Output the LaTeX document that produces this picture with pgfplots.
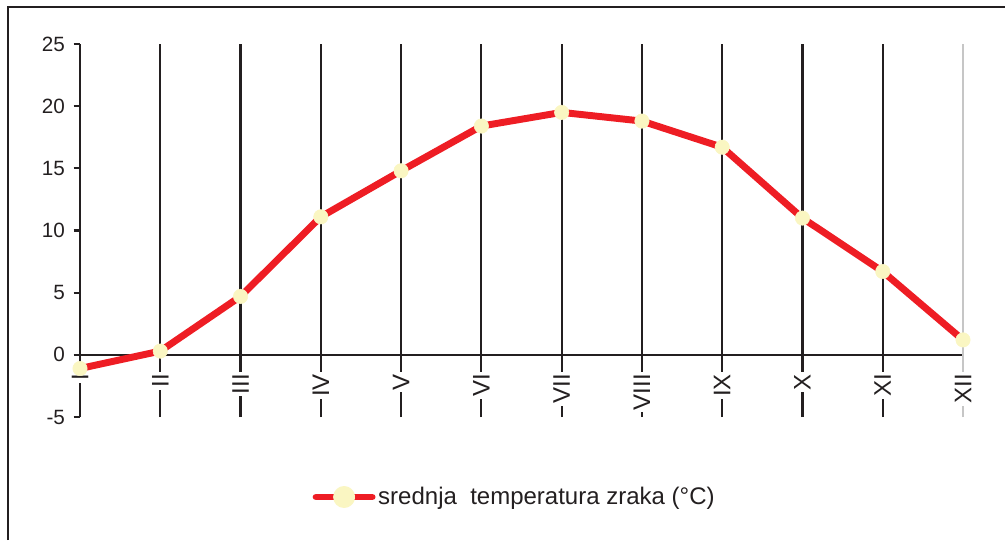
\documentclass[border=0pt]{standalone}
\usepackage{pgfplots}
\pgfplotsset{compat=1.18}
\usepackage{fontspec}
\setmainfont{Liberation Sans}
\definecolor{tred}{HTML}{EE1D24}
\definecolor{cream}{HTML}{FAF6C2}
\definecolor{gridk}{HTML}{231F20}
\begin{document}
\begin{tikzpicture}
\path[use as bounding box] (0,0) rectangle (753.75pt,405pt);
\draw[line width=1.6pt, gridk] (6pt,0) -- (6pt,399.75pt) -- (753.75pt,399.75pt);
\begin{axis}[
  at={(60pt,92.25pt)}, anchor=south west,
  scale only axis, width=662.25pt, height=279.75pt,
  xmin=0, xmax=11, ymin=-5, ymax=25,
  axis y line=left, axis x line=middle,
  axis line style={-, line width=1.6pt, gridk},
  hide obscured x ticks=false, hide obscured y ticks=false,
  xtick={0,...,10},
  xticklabels={I,II,III,IV,V,VI,VII,VIII,IX,X,XI},
  extra x ticks={11}, extra x tick labels={XII},
  extra x tick style={major grid style={line width=0.8pt, gray!45}},
  x tick style={draw=none},
  xmajorgrids, major grid style={line width=1.6pt, gridk},
  xticklabel style={rotate=90, anchor=east, fill=white, inner sep=1.5pt,
    font=\fontsize{18}{18}\selectfont, text=gridk},
  xticklabel shift=8pt,
  ytick={-5,0,...,25},
  y tick style={line width=1.6pt, gridk},
  tick align=outside, major tick length=4.8pt,
  yticklabel style={font=\fontsize{15.5}{15.5}\selectfont, text=gridk},
  yticklabel shift=3pt,
  yticklabel={\pgfmathprintnumber[assume math mode=true]{\tick}},
  legend style={at={(rel axis cs:0.4926,-0.2145)}, anchor=center, draw=none,
    font=\fontsize{18}{18}\selectfont, text=gridk, inner sep=0pt},
  legend cell align=left,
  legend image code/.code={
    \draw[line width=5.2pt, tred, line cap=round] (0pt,0pt) -- (42pt,0pt);
    \fill[cream] (21pt,0pt) circle (5.6pt);
  },
  clip=false,
]
\addplot[tred, line width=5.2pt, line join=round, mark=*, mark size=5.4pt,
  mark options={draw=cream, fill=cream, line width=0.4pt}]
  coordinates {(0,-1.1)(1,0.3)(2,4.7)(3,11.1)(4,14.8)(5,18.4)(6,19.5)(7,18.8)(8,16.7)(9,11.0)(10,6.7)(11,1.2)};
\addlegendentry{srednja\ \ temperatura zraka (°C)}
\end{axis}
\end{tikzpicture}
\end{document}
